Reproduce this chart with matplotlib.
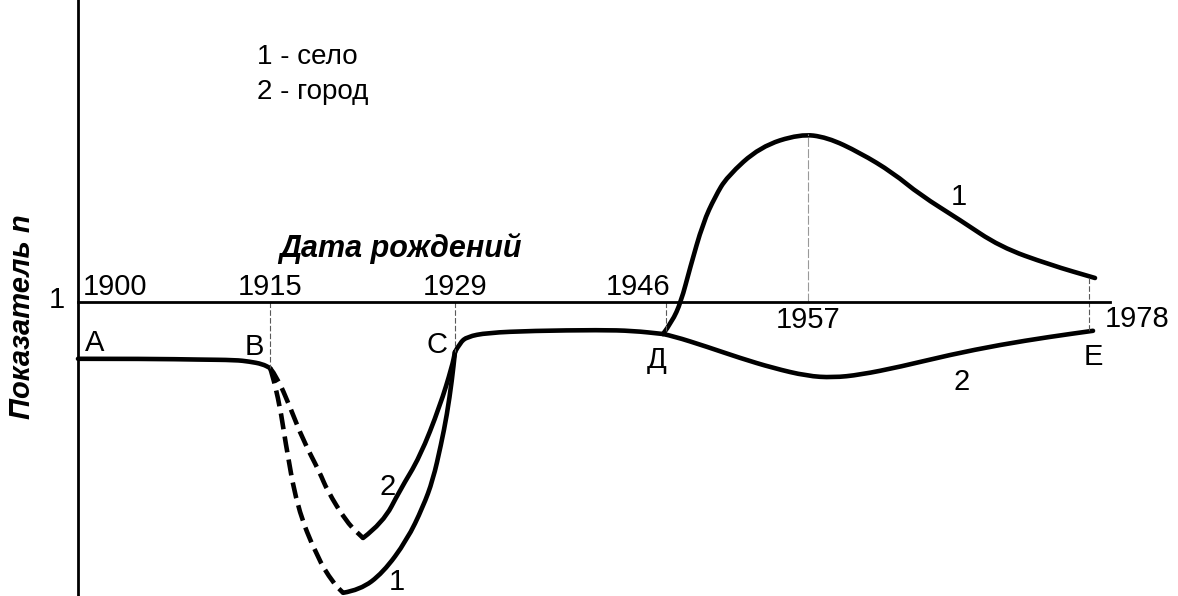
import numpy as np
import matplotlib
matplotlib.use("Agg")
import matplotlib.pyplot as plt
from matplotlib.path import Path
from matplotlib.patches import PathPatch

plt.rcParams['font.family'] = ['Liberation Sans', 'DejaVu Sans']

# --- data (year, indicator n) ---
# common part A -> B
ab_years = [1900, 1905.6, 1909.5, 1912.3, 1913.4, 1914.4, 1915]
ab_n = [0.858, 0.858, 0.856, 0.855, 0.851, 0.845, 0.835]

# village (1), B -> minimum, dashed
v_dash_years = [1915, 1915.15, 1915.76, 1916.14, 1917.04, 1918.56, 1919.77, 1920.53]
v_dash_n = [0.835, 0.823, 0.738, 0.655, 0.488, 0.363, 0.298, 0.273]
# village (1), minimum -> C, solid
v_rise_years = [1920.53, 1921.81, 1923.55, 1925.37, 1926.58, 1927.33, 1927.94,
                1928.39, 1928.77, 1929]
v_rise_n = [0.273, 0.280, 0.323, 0.405, 0.488, 0.555, 0.643, 0.718, 0.805, 0.875]

# town (2), B -> minimum, dashed
t_dash_years = [1915, 1915.53, 1916.51, 1917.50, 1918.78, 1919.31, 1920.83, 1922.04]
t_dash_n = [0.835, 0.813, 0.738, 0.655, 0.573, 0.530, 0.448, 0.410]
# town (2), minimum -> C, solid
t_rise_years = [1922.04, 1923.55, 1924.84, 1926.35, 1927.86, 1928.77, 1929]
t_rise_n = [0.410, 0.448, 0.530, 0.613, 0.740, 0.838, 0.875]

# common part C -> D
cd_years = [1929, 1929.40, 1929.97, 1931.58, 1935.28, 1940.68, 1943.34, 1945.76]
cd_n = [0.875, 0.898, 0.913, 0.923, 0.928, 0.930, 0.928, 0.920]

# village (1), D -> E
v_late_years = [1945.76, 1946.46, 1947.16, 1947.86, 1948.87, 1949.80, 1950.72, 1953.28,
                1956.38, 1958.42, 1960.89, 1963.35, 1965.37, 1968.36, 1971.35,
                1975.08, 1978.45]
v_late_n = [0.920, 0.950, 1.000, 1.085, 1.198, 1.263, 1.313, 1.388, 1.420, 1.412,
            1.373, 1.323, 1.268, 1.205, 1.138, 1.093, 1.060]

# town (2), D -> E
t_late_years = [1945.76, 1946.54, 1949.18, 1951.73, 1954.29, 1956.92, 1958.87, 1960.89,
                1963.88, 1967.61, 1971.35, 1975.08, 1978.30]
t_late_n = [0.920, 0.915, 0.888, 0.860, 0.835, 0.815, 0.811, 0.818, 0.838, 0.868,
            0.893, 0.913, 0.928]

tick_years = [1900, 1915, 1929, 1946, 1957, 1978]
point_names = ['A', 'B', 'C', 'Д', 'E']

# the time axis of the original is schematic: the marked years are not evenly spaced
knot_years = [1800, 1893.91, 1900, 1915, 1929, 1946, 1957, 1978, 1984.65, 2100]
knot_pos = [-1202, 0, 78, 270, 455, 666, 808, 1089, 1178, 2722]


def fwd(x):
    return np.interp(x, knot_years, knot_pos)


def inv(p):
    return np.interp(p, knot_pos, knot_years)


def smooth_line(ax, xs, ys, **kw):
    # quadratic bezier through the midpoints, so the hand-drawn curves stay round
    pts = list(zip(xs, ys))
    verts = [pts[0]]
    codes = [Path.MOVETO]
    for i in range(1, len(pts) - 1):
        mid = ((pts[i][0] + pts[i + 1][0]) / 2, (pts[i][1] + pts[i + 1][1]) / 2)
        verts += [pts[i], mid]
        codes += [Path.CURVE3, Path.CURVE3]
    verts.append(pts[-1])
    codes.append(Path.LINETO)
    patch = PathPatch(Path(verts, codes), fill=False, **kw)
    ax.add_patch(patch)
    return patch


fig = plt.figure(figsize=(11.78, 5.96), dpi=100)
ax = fig.add_axes([0, 0, 1, 1])
ax.set_xscale('function', functions=(fwd, inv))
ax.set_xlim(1893.91, 1984.65)
ax.set_ylim(0.265, 1.755)

for s in ['top', 'right']:
    ax.spines[s].set_visible(False)
ax.spines['left'].set_position(('data', 1900))
ax.spines['left'].set_linewidth(2.0)
ax.spines['bottom'].set_position(('data', 1.0))
ax.spines['bottom'].set_bounds(1900, 1979.6)
ax.spines['bottom'].set_linewidth(2.0)
ax.set_xticks([])
ax.set_yticks([])

lw = 3.3
kw = dict(edgecolor='black', lw=lw, capstyle='round', joinstyle='round')
smooth_line(ax, ab_years, ab_n, **kw)
smooth_line(ax, cd_years, cd_n, **kw)
smooth_line(ax, v_rise_years, v_rise_n, **kw)
smooth_line(ax, t_rise_years, t_rise_n, **kw)
smooth_line(ax, v_late_years, v_late_n, **kw)
smooth_line(ax, t_late_years, t_late_n, **kw)
dash = dict(edgecolor='black', lw=lw, ls=(0, (3.5, 1.6)), capstyle='butt')
smooth_line(ax, v_dash_years, v_dash_n, **dash)
smooth_line(ax, t_dash_years, t_dash_n, **dash)

# thin guide lines from the axis to the marked points
guide = dict(color='0.35', lw=0.8, ls=(0, (5, 2)))
ax.plot([1915, 1915], [1.0, ab_n[-1]], **guide)
ax.plot([1929, 1929], [1.0, cd_n[0]], **guide)
ax.plot([1946, 1946], [1.0, cd_n[-1] + 0.005], **guide)
ax.plot([1957, 1957], [1.0, max(v_late_n)], color='0.6', lw=0.8, ls=(0, (8, 2)))
ax.plot([1978, 1978], [v_late_n[-1], t_late_n[-1]], **guide)

fs = 21
ax.text(1900.4, 1.0375, '1900', fontsize=fs, ha='left', va='center')
ax.text(1915, 1.0375, '1915', fontsize=fs, ha='center', va='center')
ax.text(1929, 1.0375, '1929', fontsize=fs, ha='center', va='center')
ax.text(1943.74, 1.0375, '1946', fontsize=fs, ha='center', va='center')
ax.text(1957, 0.955, '1957', fontsize=fs, ha='center', va='center')
ax.text(1979.19, 0.9575, '1978', fontsize=fs, ha='left', va='center')
ax.text(1898.36, 1.005, '1', fontsize=fs, ha='center', va='center')

point_pos = [(1901.33, 0.8975), (1913.75, 0.8875), (1927.64, 0.8925),
             (1945.27, 0.855), (1978.30, 0.8625)]
for name, (px, py) in zip(point_names, point_pos):
    ax.text(px, py, name, fontsize=fs, ha='center', va='center')

ax.text(1923.93, 0.5375, '2', fontsize=fs, ha='center', va='center')
ax.text(1924.61, 0.300, '1', fontsize=fs, ha='center', va='center')
ax.text(1968.28, 1.2625, '1', fontsize=fs, ha='center', va='center')
ax.text(1968.51, 0.800, '2', fontsize=fs, ha='center', va='center')

fig.text(0.218, 0.904, '1 - село', fontsize=20, ha='left', va='center')
fig.text(0.218, 0.846, '2 - город', fontsize=20, ha='left', va='center')
fig.text(0.3396, 0.584, 'Дата рождений', fontsize=22, fontweight='bold',
         style='italic', ha='center', va='center')
fig.text(0.0187, 0.468, 'Показатель n', fontsize=21, fontweight='bold',
         style='italic', rotation=90, ha='center', va='center')

fig.savefig('out.png', dpi=100)
